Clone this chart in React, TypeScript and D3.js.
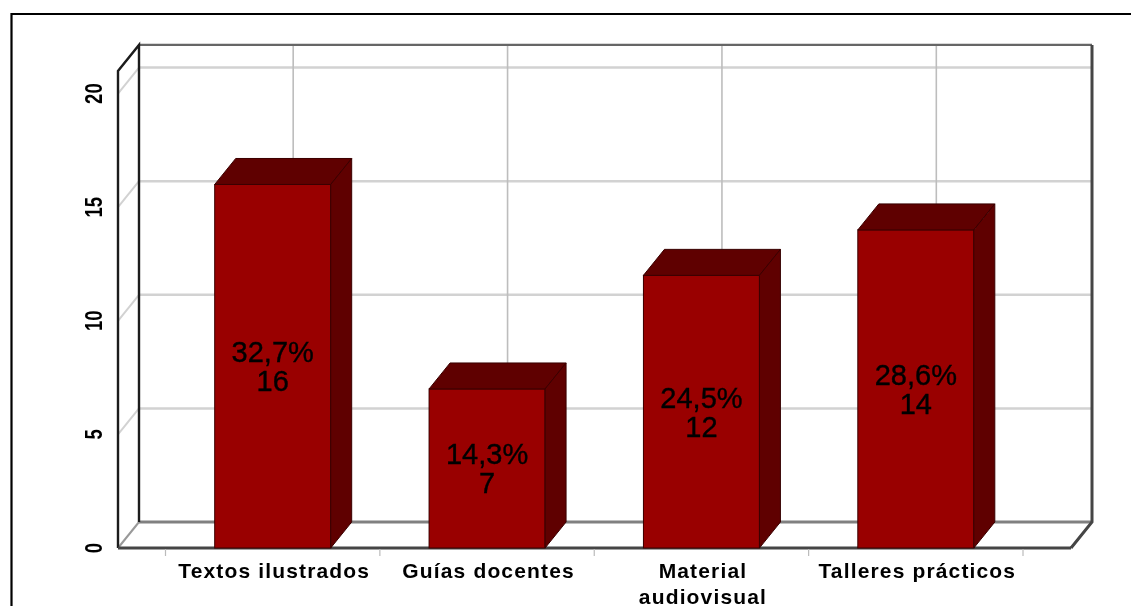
import React from "react";
import * as d3 from "d3";

const categories: string[][] = [["Textos ilustrados"], ["Guías docentes"], ["Material", "audiovisual"], ["Talleres prácticos"]];
const values = [16, 7, 12, 14];
const percents = ["32,7%", "14,3%", "24,5%", "28,6%"];
const yTicks = [0, 5, 10, 15, 20];

const W = 1131, H = 606;
const DX = 21, DY = -26;
const y = d3.scaleLinear().domain([0, 21]).range([548, 548 - 21 * 22.72]);
const x = d3.scaleBand<number>().domain(d3.range(categories.length)).range([165.5, 1023]).paddingInner(0).paddingOuter(0);
const barW = 116;
const left = 118, right = 1071, bottom = y(0), top = y(21);
const font = "'Liberation Sans', Arial, sans-serif";

export default function App() {
  return (
    <svg width={W} height={H} style={{ position: "absolute", left: 0, top: 0, background: "#fff" }} fontFamily={font}>
      <defs>
        <filter id="soft" x="0" y="0" width={W} height={H} filterUnits="userSpaceOnUse">
          <feGaussianBlur stdDeviation={0.5} />
        </filter>
      </defs>
      <g filter="url(#soft)">
        <rect width={W} height={H} fill="#fff" />
        <path d={`M11.5,606V14H${W}`} fill="none" stroke="#000" strokeWidth={2.2} />
        {/* grid */}
        {yTicks.slice(1).map((t) => (
          <g key={t} stroke="#d2d2d2" fill="none">
            <line x1={left + DX} x2={right + DX} y1={y(t) + DY} y2={y(t) + DY} strokeWidth={2.5} />
            <line x1={left} x2={left + DX} y1={y(t)} y2={y(t) + DY} strokeWidth={2} />
          </g>
        ))}
        {categories.map((_, i) => {
          const cx = x(i)! + x.bandwidth() / 2 + DX - 0.5;
          return <line key={i} x1={cx} x2={cx} y1={top + DY} y2={bottom + DY} stroke="#bdbdbd" strokeWidth={1.6} />;
        })}
        {/* walls */}
        <line x1={left + DX} x2={right + DX} y1={bottom + DY} y2={bottom + DY} stroke="#808080" strokeWidth={3} />
        <line x1={left} x2={left + DX} y1={bottom} y2={bottom + DY} stroke="#999" strokeWidth={2} />
        <line x1={left + DX} x2={right + DX} y1={top + DY} y2={top + DY} stroke="#666" strokeWidth={2.4} />
        <path d={`M${left},${bottom}V${top}L${left + DX},${top + DY}V${bottom + DY}`} fill="none" stroke="#1a1a1a" strokeWidth={2.4} />
        <path d={`M${right + DX},${top + DY}V${bottom + DY}L${right},${bottom}`} fill="none" stroke="#444" strokeWidth={3} />
        <line x1={left} x2={right} y1={bottom} y2={bottom} stroke="#444" strokeWidth={2.8} />
        {/* ticks */}
        {d3.range(categories.length + 1).map((i) => {
          const tx = i < categories.length ? x(i)! : 1023;
          return <line key={i} x1={tx} x2={tx} y1={bottom + 1} y2={bottom + 8} stroke="#bbb" strokeWidth={1.2} />;
        })}
        {/* bars */}
        {values.map((v, i) => {
          const cx = x(i)! + x.bandwidth() / 2;
          const x0 = cx - barW / 2, x1 = cx + barW / 2;
          const yt = y(v);
          return (
            <g key={i} stroke="#3a0000" strokeWidth={1}>
              <rect x={x0} y={yt} width={barW} height={bottom - yt} fill="#990000" />
              <path d={`M${x0},${yt}l${DX},${DY}H${x1 + DX}L${x1},${yt}Z`} fill="#5e0000" />
              <path d={`M${x1},${yt}l${DX},${DY}V${bottom + DY}L${x1},${bottom}Z`} fill="#5e0000" />
              <g stroke="#000" strokeWidth={0.4} fill="#000" fontSize={29} textAnchor="middle">
                <text x={cx} y={(yt + bottom) / 2 - 4}>{percents[i]}</text>
                <text x={cx} y={(yt + bottom) / 2 + 25}>{v}</text>
              </g>
            </g>
          );
        })}
        {/* y labels */}
        {yTicks.map((t) => (
          <text key={t} transform={`translate(102,${y(t)}) rotate(-90) scale(1,1.3)`} textAnchor="middle" fontSize={18.5} fontWeight="bold" fill="#000">{t}</text>
        ))}
        {/* x labels */}
        {categories.map((lines, i) => {
          const cx = x(i)! + x.bandwidth() / 2 + 1.5;
          return (
            <text key={i} textAnchor="middle" fontSize={21} fontWeight="bold" fill="#000" letterSpacing={1.15}>
              {lines.map((l, j) => <tspan key={j} x={cx} y={578 + j * 25.5}>{l}</tspan>)}
            </text>
          );
        })}
      </g>
    </svg>
  );
}
